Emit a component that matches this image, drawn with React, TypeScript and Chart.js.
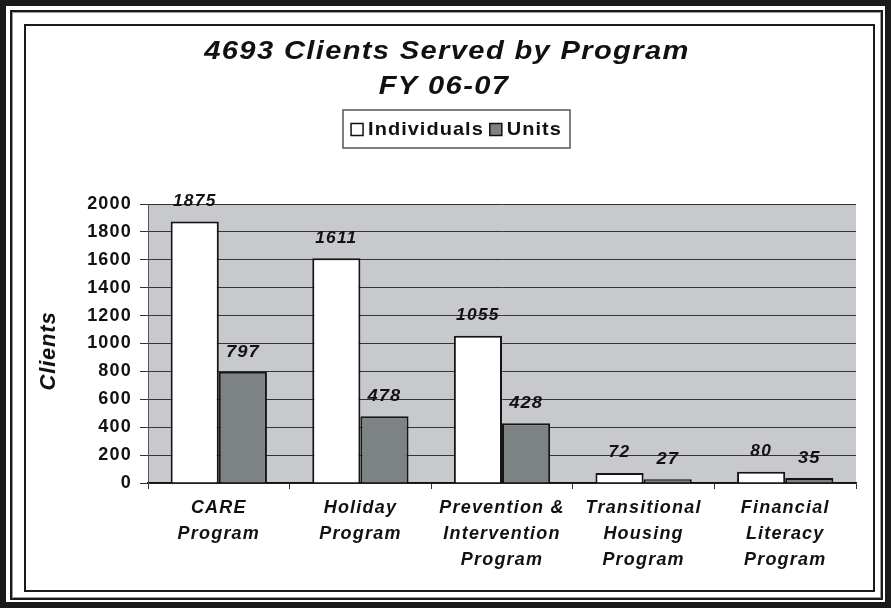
import { useEffect, useRef } from "react";
import { Chart, registerables } from "chart.js";

Chart.register(...registerables);

// ---- Data ----
const categories: string[][] = [
  ["CARE", "Program"],
  ["Holiday", "Program"],
  ["Prevention &", "Intervention", "Program"],
  ["Transitional", "Housing", "Program"],
  ["Financial", "Literacy", "Program"],
];
const individuals = [1875, 1611, 1055, 72, 80];
const units = [797, 478, 428, 27, 35];
const seriesNames = ["Individuals", "Units"];
const titleLines = ["4693 Clients Served by Program", "FY 06-07"];
const yAxisTitle = "Clients";
const yMin = 0;
const yMax = 2000;
const yStep = 200;

const FONT = "'Liberation Sans', Arial, Helvetica, sans-serif";
const PLOT_BG = "#c8c9cd";
const UNITS_COLOR = "#7d8382";
const INK = "#111111";

function wideText(ctx: any, text: string, x: number, y: number, sx: number) {
  ctx.save();
  ctx.translate(x, y);
  ctx.scale(sx, 1);
  ctx.fillText(text, 0, 0);
  ctx.restore();
}

const framePlugin = {
  id: "framePlugin",
  beforeLayout(chart: any) {
    chart.ctx.letterSpacing = "1.2px";
  },
  beforeDraw(chart: any) {
    const ctx = chart.ctx;
    const w = chart.width;
    const h = chart.height;
    ctx.save();
    ctx.letterSpacing = "0px";
    ctx.fillStyle = "#ffffff";
    ctx.fillRect(0, 0, w, h);
    // outer thick border
    ctx.fillStyle = "#1a1a1a";
    ctx.fillRect(0, 0, w, 6);
    ctx.fillRect(0, h - 6, w, 6);
    ctx.fillRect(0, 0, 6, h);
    ctx.fillRect(w - 6, 0, 6, h);
    // middle double line
    ctx.strokeStyle = "#1a1a1a";
    ctx.lineWidth = 2;
    ctx.strokeRect(11, 11, w - 20, h - 20);
    ctx.strokeStyle = "#9a9a9a";
    ctx.lineWidth = 1;
    ctx.strokeRect(12.5, 12.5, w - 23, h - 23);
    // inner line
    ctx.strokeStyle = "#1a1a1a";
    ctx.lineWidth = 2;
    ctx.strokeRect(25, 25, w - 42, h - 42);
    // plot background
    const a = chart.chartArea;
    ctx.fillStyle = PLOT_BG;
    ctx.fillRect(a.left, a.top, a.right - a.left, a.bottom - a.top);
    ctx.restore();
    ctx.letterSpacing = "1.2px";
  },
  afterDatasetsDraw(chart: any) {
    const ctx = chart.ctx;
    ctx.save();
    ctx.fillStyle = INK;
    ctx.textAlign = "center";
    ctx.textBaseline = "middle";
    chart.data.datasets.forEach((ds: any, di: number) => {
      const meta = chart.getDatasetMeta(di);
      ctx.font = di === 0 ? `italic bold 16px ${FONT}` : `italic bold 17px ${FONT}`;
      ctx.letterSpacing = di === 0 ? "1.2px" : "1px";
      meta.data.forEach((el: any, i: number) => {
        wideText(ctx, String(ds.data[i]), el.x, el.y - 20, 1.08);
      });
    });
    ctx.restore();
  },
  afterDraw(chart: any) {
    const ctx = chart.ctx;
    ctx.save();
    // Title
    ctx.fillStyle = INK;
    ctx.textAlign = "center";
    ctx.textBaseline = "middle";
    ctx.font = `italic bold 26px ${FONT}`;
    ctx.letterSpacing = "1.2px";
    wideText(ctx, titleLines[0], 447, 52, 1.12);
    wideText(ctx, titleLines[1], 444, 87, 1.12);

    // Legend box
    ctx.letterSpacing = "1px";
    ctx.font = `bold 19px ${FONT}`;
    const bx = 343, by = 110, bw = 227, bh = 38;
    ctx.strokeStyle = "#555";
    ctx.lineWidth = 1.5;
    ctx.strokeRect(bx, by, bw, bh);
    const sq = 12;
    const gap1 = 5, gap2 = 6;
    const sx = 1.05;
    const w0 = ctx.measureText(seriesNames[0]).width * sx;
    const w1 = ctx.measureText(seriesNames[1]).width * sx;
    const total = sq + gap1 + w0 + gap2 + sq + gap1 + w1;
    let x = bx + (bw - total) / 2;
    const cy = by + bh / 2 + 0.5;
    const fills = ["#ffffff", UNITS_COLOR];
    [w0, w1].forEach((tw, i) => {
      ctx.fillStyle = fills[i];
      ctx.fillRect(x, cy - sq / 2, sq, sq);
      ctx.strokeStyle = "#111";
      ctx.lineWidth = 1.5;
      ctx.strokeRect(x, cy - sq / 2, sq, sq);
      x += sq + gap1;
      ctx.fillStyle = INK;
      ctx.textAlign = "left";
      wideText(ctx, seriesNames[i], x, cy, sx);
      x += tw + gap2;
    });

    // Y axis title
    ctx.save();
    ctx.translate(49, 351);
    ctx.rotate(-Math.PI / 2);
    ctx.font = `italic bold 22px ${FONT}`;
    ctx.letterSpacing = "0.8px";
    ctx.textAlign = "center";
    ctx.fillStyle = INK;
    ctx.fillText(yAxisTitle, 0, 0);
    ctx.restore();

    ctx.restore();
  },
};

export default function App() {
  const ref = useRef<HTMLCanvasElement>(null);
  useEffect(() => {
    document.body.style.margin = "0";
    const canvas = ref.current!;
    const chart = new Chart(canvas, {
      type: "bar",
      data: {
        labels: categories,
        datasets: [
          {
            label: seriesNames[0],
            data: individuals,
            backgroundColor: "#ffffff",
            borderColor: "#151515",
            borderWidth: 2,
            barPercentage: 1,
            categoryPercentage: 0.68,
          },
          {
            label: seriesNames[1],
            data: units,
            backgroundColor: UNITS_COLOR,
            borderColor: "#151515",
            borderWidth: 2,
            barPercentage: 1,
            categoryPercentage: 0.68,
          },
        ],
      },
      options: {
        responsive: false,
        animation: false,
        devicePixelRatio: 1,
        layout: { padding: { top: 204, right: 35, bottom: 20, left: 30 } },
        plugins: {
          legend: { display: false },
          title: { display: false },
          tooltip: { enabled: false },
        },
        scales: {
          x: {
            grid: {
              offset: true,
              drawOnChartArea: false,
              drawTicks: true,
              tickLength: 6,
              color: "#333",
              lineWidth: 1,
            },
            border: { display: true, color: "#111", width: 1.5 },
            ticks: {
              color: INK,
              padding: 6,
              maxRotation: 0,
              autoSkip: false,
              font: { family: FONT, size: 18, weight: "bold", style: "italic", lineHeight: 1.45 },
            },
            afterFit(scale: any) {
              scale.height = 105;
            },
          },
          y: {
            min: yMin,
            max: yMax,
            grid: {
              color: "#333",
              lineWidth: 1,
              tickLength: 8,
              drawTicks: true,
            },
            border: { display: true, color: "#555", width: 1 },
            ticks: {
              stepSize: yStep,
              color: INK,
              padding: 8,
              font: { family: FONT, size: 18, weight: "bold" },
              callback: (v: any) => String(v),
            },
            afterFit(scale: any) {
              scale.width = 118;
            },
          },
        },
      },
      plugins: [framePlugin],
    });
    return () => chart.destroy();
  }, []);
  return (
    <div style={{ position: "absolute", left: 0, top: 0, width: 891, height: 608 }}>
      <canvas ref={ref} width={891} height={608} />
    </div>
  );
}
